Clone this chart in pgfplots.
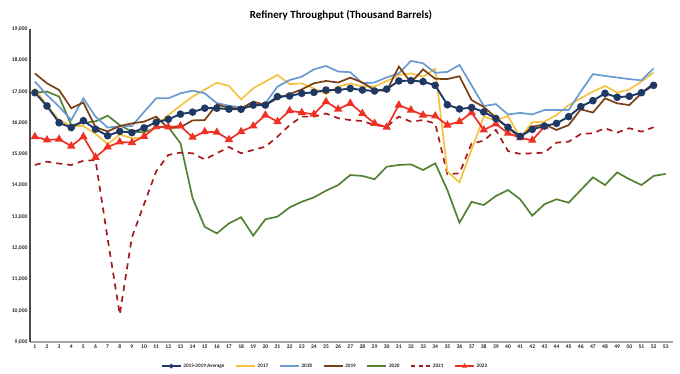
\documentclass[border=0pt]{standalone}
\usepackage{fontspec}
\setmainfont{Carlito}
\usepackage{pgfplots}
\pgfplotsset{compat=1.18}
\usepackage{pgfplotstable}
\definecolor{avgc}{HTML}{1F3864}
\definecolor{c17}{HTML}{F5C242}
\definecolor{c18}{HTML}{6A9AD4}
\definecolor{c19}{HTML}{7B3F14}
\definecolor{c20}{HTML}{548235}
\definecolor{c21}{HTML}{A61C1C}
\definecolor{c22}{HTML}{EE3124}
\pgfplotstableread{
w avg y17 y18 y19 y20 y21 y22
1 16965 17105 17320 17580 16965 14655 15560
2 16540 16550 16890 17265 17000 14760 15455
3 16005 16100 16520 17050 16840 14700 15480
4 15850 15900 16090 16470 15930 14655 15260
5 16070 15900 16785 16650 16000 14790 15560
6 15800 15650 16200 15860 16050 14810 14900
7 15590 15320 15850 15730 16230 12300 15230
8 15730 15630 15890 15900 15930 9880 15390
9 15690 15510 15900 15985 15720 12350 15370
10 15840 15540 16350 16040 15700 13400 15570
11 16020 15930 16785 16200 15850 14450 15880
12 16115 16250 16785 15830 15870 14975 15870
13 16280 16550 16945 15860 15350 15050 15900
14 16345 16840 17030 16080 13600 15030 15540
15 16470 17060 16945 16090 12680 14830 15720
16 16470 17285 16630 16590 12470 15030 15700
17 16440 17180 16550 16480 12790 15230 15465
18 16435 16750 16500 16460 12985 15030 15720
19 16570 17105 16540 16680 12400 15135 15900
20 16570 17320 16625 16570 12920 15240 16250
21 16840 17530 17160 16785 13005 15560 16040
22 16860 17240 17370 16920 13300 15930 16390
23 16945 17260 17475 17070 13480 16200 16330
24 16975 17100 17710 17265 13620 16200 16275
25 17050 16920 17820 17340 13835 16300 16680
26 17050 17160 17640 17290 14015 16150 16435
27 17100 17260 17620 17445 14335 16090 16625
28 17050 17160 17265 17290 14305 16060 16300
29 17020 17160 17290 17050 14200 15930 15985
30 17080 17340 17455 17020 14600 15880 15860
31 17340 17530 17580 17800 14655 16200 16570
32 17350 17580 17980 17290 14675 16040 16410
33 17320 17475 17905 17710 14495 16090 16250
34 17200 17730 17600 17410 14710 15985 16220
35 16580 14450 17630 17400 13855 14360 15930
36 16445 14100 17850 17490 12810 14390 16040
37 16490 15150 17200 16730 13480 15340 16330
38 16350 16200 16540 16510 13375 15430 15775
39 16140 16080 16600 16170 13665 15775 15965
40 15860 16220 16270 15850 13855 15100 15670
41 15570 15530 16320 15520 13560 15010 15525
42 15795 16020 16270 15880 13035 15030 15445
43 15900 16040 16410 15950 13400 15050 15880
44 15985 16250 16410 15775 13560 15370 nan
45 16200 16570 16410 15930 13450 15400 nan
46 16520 16785 17000 16435 13855 15645 nan
47 16710 17000 17560 16330 14260 15670 nan
48 16945 17180 17500 16785 14015 15830 nan
49 16820 16965 17450 16625 14420 15690 nan
50 16850 17070 17400 16570 14200 15830 nan
51 16965 17320 17360 16945 14015 15720 nan
52 17200 17610 17740 17265 14305 15860 nan
53 nan nan nan nan 14370 nan nan
}\datatable
\begin{document}
\begin{tikzpicture}
\useasboundingbox (0,0) rectangle (680bp,374bp);
\node[font=\bfseries\fontsize{11}{13}\selectfont] at (341bp,359bp) {Refinery Throughput (Thousand Barrels)};
\begin{axis}[
  at={(30bp,32bp)}, anchor=south west, scale only axis,
  width=643bp, height=313bp,
  xmin=0.6, xmax=53.6, ymin=9000, ymax=19000,
  axis x line=bottom, axis y line=left,
  axis line style={-},
  x axis line style={draw=black!35, line width=1.6bp},
  y axis line style={draw=black!70, line width=1.2bp},
  xtick={1,...,53}, ytick={9000,10000,...,19000},
  major tick length=0pt,
  scaled y ticks=false,
  /pgf/number format/assume math mode=true,
  /pgf/number format/1000 sep={,},
  tick label style={font=\bfseries\fontsize{5.6}{7}\selectfont, text=black!85},
  xticklabel style={yshift=1bp},
  yticklabel style={xshift=1bp},
  unbounded coords=jump,
  legend style={at={(0.459,-0.077)}, anchor=center, draw=none, fill=none,
    font=\bfseries\fontsize{5.2}{6}\selectfont, text=black!85,
    /tikz/every even column/.append style={column sep=9bp},
    /tikz/every odd column/.append style={column sep=0bp}},
  legend columns=-1,
  legend image code/.code={\draw[mark repeat=2,mark phase=2,#1] plot coordinates {(0bp,0bp) (9.5bp,0bp) (19bp,0bp)};},
  every axis plot/.append style={line width=1.6bp},
]
\addlegendimage{avgc, mark=*, mark size=1.6bp, line width=1.3bp}
\addlegendentry{2015-2019 Average}
\addlegendimage{c17, line width=1.3bp}
\addlegendentry{2017}
\addlegendimage{c18, line width=1.3bp}
\addlegendentry{2018}
\addlegendimage{c19, line width=1.3bp}
\addlegendentry{2019}
\addlegendimage{c20, line width=1.3bp}
\addlegendentry{2020}
\addlegendimage{c21, line width=1.3bp, dash pattern=on 4bp off 3.5bp}
\addlegendentry{2021}
\addlegendimage{c22, mark=triangle*, mark size=1.8bp, line width=1.3bp}
\addlegendentry{2022}
\addplot[forget plot, c20, line width=1.7bp] table[x=w, y=y20] {\datatable};
\addplot[forget plot, c21, line width=1.7bp, dash pattern=on 6bp off 5bp] table[x=w, y=y21] {\datatable};
\addplot[forget plot, c17, line width=1.7bp] table[x=w, y=y17] {\datatable};
\addplot[forget plot, c18, line width=1.7bp] table[x=w, y=y18] {\datatable};
\addplot[forget plot, c19, line width=1.7bp] table[x=w, y=y19] {\datatable};
\addplot[forget plot, c22, line width=1.7bp, mark=triangle*, mark size=3.2bp, mark options={solid}] table[x=w, y=y22] {\datatable};
\addplot[forget plot, avgc, line width=1.9bp, mark=*, mark size=2.8bp, mark options={solid}] table[x=w, y=avg] {\datatable};
\end{axis}
\end{tikzpicture}
\end{document}
